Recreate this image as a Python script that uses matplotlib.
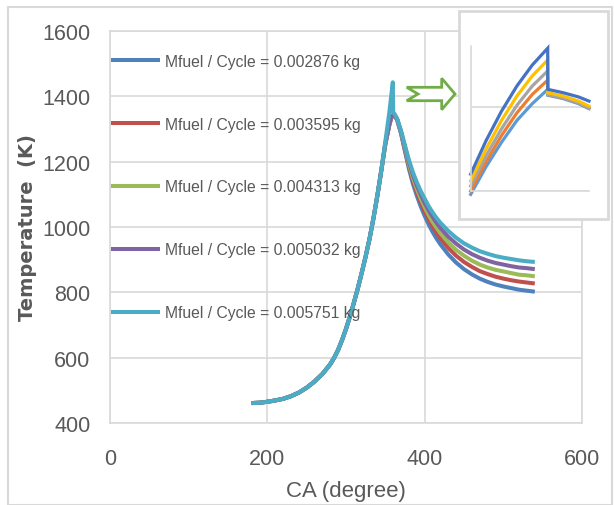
import matplotlib
matplotlib.use("Agg")
import matplotlib.pyplot as plt
from matplotlib import font_manager
from matplotlib.patches import Rectangle, Polygon

# ---------------- data ----------------
labels = ["Mfuel / Cycle = 0.002876 kg", "Mfuel / Cycle = 0.003595 kg",
          "Mfuel / Cycle = 0.004313 kg", "Mfuel / Cycle = 0.005032 kg",
          "Mfuel / Cycle = 0.005751 kg"]
colors = ["#4F81BD", "#C0504D", "#9BBB59", "#8064A2", "#4BACC6"]

ca_comp = [180, 190, 200, 210, 220, 230, 240, 250, 260, 270, 280, 285, 290, 295,
           300, 305, 310, 315, 320, 325, 330, 335, 340, 345]
t_comp = [461, 462, 465, 469, 474, 482, 493, 508, 527, 550, 580, 600, 624, 654,
          688, 726, 768, 812, 860, 910, 965, 1028, 1098, 1175]

ca_peak_std = [350, 355, 358]
t_peak_blue = [1253, 1311, 1338]
t_peak_red = [1254, 1312, 1339]
t_peak_green = [1255, 1313, 1340]
t_peak_purple = [1256, 1314, 1341]
ca_peak_cyan = [350, 355, 359.5, 360]
t_peak_cyan = [1262, 1350, 1443, 1352]

ca_exp = [362, 365, 370, 375, 380, 385, 390, 395, 400, 405, 410, 415, 420,
          430, 440, 450, 460, 470, 480, 490, 500, 510, 520, 530, 540]
t_exp_blue = [1339, 1328, 1285, 1231, 1178, 1133, 1096, 1063, 1034, 1008, 985, 965, 947,
              916, 891, 871, 855, 842, 832, 824, 818, 813, 808, 805, 802]
t_exp_red = [1340, 1329, 1288, 1236, 1186, 1143, 1107, 1076, 1048, 1024, 1002, 983, 965,
             936, 912, 893, 878, 865, 856, 848, 842, 837, 833, 830, 827]
t_exp_green = [1341, 1329, 1290, 1241, 1192, 1151, 1117, 1087, 1061, 1037, 1016, 998, 981,
               953, 930, 912, 897, 885, 876, 869, 864, 859, 854, 852, 849]
t_exp_purple = [1342, 1330, 1292, 1245, 1199, 1160, 1127, 1099, 1073, 1051, 1031, 1013, 997,
                970, 949, 931, 917, 906, 897, 890, 885, 880, 876, 874, 871]
t_exp_cyan = [1345, 1332, 1294, 1249, 1205, 1168, 1137, 1110, 1087, 1064, 1045, 1028, 1013,
              988, 967, 950, 937, 926, 918, 911, 906, 902, 898, 895, 893]

x_ticks = [0, 200, 400, 600]
y_ticks = [400, 600, 800, 1000, 1200, 1400, 1600]

# inset (zoom of the peak)
inset_colors = ["#5B9BD5", "#ED7D31", "#A5A5A5", "#FFC000", "#4472C4"]
inset_ca_rise = [335, 340, 345, 350, 355, 360]
inset_ca_fall = [360, 365, 370, 373.4]
inset_rise = [
    [1296, 1329, 1358, 1384, 1404, 1421],
    [1300, 1335, 1366, 1393, 1415, 1432],
    [1306, 1342, 1374, 1402, 1425, 1443],
    [1312, 1350, 1384, 1413, 1437, 1456],
    [1320, 1360, 1395, 1425, 1450, 1470],
]
inset_fall = [
    [1414, 1410, 1404, 1398],
    [1415, 1411, 1405, 1399],
    [1415, 1411, 1405, 1399],
    [1417, 1413, 1407, 1401],
    [1421, 1417, 1412, 1407],
]

# ---------------- fonts ----------------
avail = {f.name for f in font_manager.fontManager.ttflist}
narrow = "Liberation Sans Narrow" if "Liberation Sans Narrow" in avail else "Liberation Sans"

W, H = 614, 506
fig = plt.figure(figsize=(W / 100, H / 100), dpi=100)

def rect(l, t, r, b):
    return [l / W, 1 - b / H, (r - l) / W, (b - t) / H]

# outer frame
fig.patches.append(Rectangle((8 / W, 0), (612 - 8) / W, 1 - 8 / H, transform=fig.transFigure,
                             fill=False, edgecolor="#D9D9D9", lw=1.5))

ax = fig.add_axes(rect(110, 32, 582, 424))
grey = "#D9D9D9"
series = [
    (ca_comp + ca_peak_std + ca_exp, t_comp + t_peak_blue + t_exp_blue),
    (ca_comp + ca_peak_std + ca_exp, t_comp + t_peak_red + t_exp_red),
    (ca_comp + ca_peak_std + ca_exp, t_comp + t_peak_green + t_exp_green),
    (ca_comp + ca_peak_std + ca_exp, t_comp + t_peak_purple + t_exp_purple),
    (ca_comp + ca_peak_cyan + ca_exp, t_comp + t_peak_cyan + t_exp_cyan),
]
for (xs, ys), c, lab in zip(series, colors, labels):
    ax.plot(xs, ys, color=c, lw=2.9, label=lab, solid_joinstyle="round", solid_capstyle="butt")

ax.set_xlim(0, 600)
ax.set_ylim(400, 1600)
ax.set_xticks(x_ticks)
ax.set_yticks(y_ticks)
ax.grid(True, color=grey, lw=1.2)
ax.set_axisbelow(True)
for s in ax.spines.values():
    s.set_color(grey)
    s.set_linewidth(1.2)
ax.tick_params(length=0, colors="#595959", labelsize=15.5)
ax.tick_params(axis="x", pad=18)
ax.tick_params(axis="y", pad=14)
for t in ax.get_xticklabels() + ax.get_yticklabels():
    t.set_fontfamily(narrow)

ax.set_xlabel("CA (degree)", fontsize=16, color="#595959", fontfamily=narrow, labelpad=8)
ax.set_ylabel("Temperature  (K)", fontsize=14, color="#595959", fontfamily="DejaVu Sans",
              fontweight="bold", labelpad=4)

leg = ax.legend(loc="upper left", bbox_to_anchor=(0.003, 0.942), frameon=False,
                prop={"family": narrow, "size": 11.3}, labelspacing=3.05,
                handlelength=3.1, handletextpad=0.3, borderpad=0, borderaxespad=0)
for t in leg.get_texts():
    t.set_color("#595959")

# arrow
pts = [(406.7, 88.3), (441.7, 88.3), (441.7, 79.3), (455, 95), (441.7, 110.7),
       (441.7, 101.7), (406.7, 101.7), (418, 95)]
fig.patches.append(Polygon([(x / W, 1 - y / H) for x, y in pts], closed=True,
                           transform=fig.transFigure, facecolor="white",
                           edgecolor="#70AD47", lw=2))

# inset box
fig.patches.append(Rectangle((459 / W, 1 - 220 / H), (608 - 459) / W, (220 - 12) / H,
                             transform=fig.transFigure, facecolor="white",
                             edgecolor="#D9D9D9", lw=2, zorder=5))
ins = fig.add_axes(rect(470.7, 47, 589, 192))
ins.set_zorder(6)
ins.patch.set_alpha(0)
for c, r, f in zip(inset_colors, inset_rise, inset_fall):
    ins.plot(inset_ca_rise + inset_ca_fall, r + f, color=c, lw=2.3, clip_on=False,
             solid_joinstyle="miter")
ins.set_xlim(335, 373.4)
ins.set_ylim(1300, 1472.6)
ins.set_yticks([1300, 1400])
ins.set_xticks([])
ins.tick_params(length=0, labelleft=False)
ins.grid(True, axis="y", color=grey, lw=1.2)
ins.set_axisbelow(True)
for k in ["top", "right"]:
    ins.spines[k].set_visible(False)
for k in ["left", "bottom"]:
    ins.spines[k].set_color(grey)
    ins.spines[k].set_linewidth(1.2)

fig.savefig("out.png", dpi=100)
